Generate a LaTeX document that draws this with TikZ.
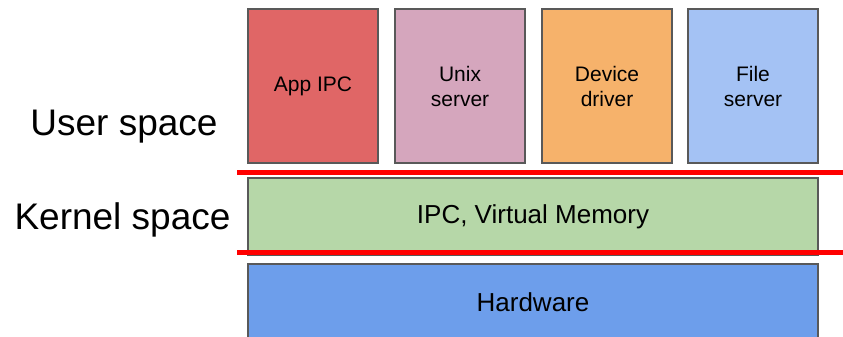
\documentclass[tikz,border=0pt]{standalone}
\usepackage{fontspec}
\setmainfont{Liberation Sans}
\definecolor{cApp}{HTML}{E06666}
\definecolor{cUnix}{HTML}{D5A6BD}
\definecolor{cDev}{HTML}{F6B26B}
\definecolor{cFile}{HTML}{A4C2F4}
\definecolor{cKern}{HTML}{B6D7A8}
\definecolor{cHw}{HTML}{6D9EEB}
\definecolor{cBorder}{HTML}{595959}
\tikzset{
  block/.style={draw=cBorder, line width=2pt, inner sep=0pt, align=center,
    font=\fontsize{21}{25}\selectfont},
  upbox/.style={block, minimum width=130pt, minimum height=154pt},
  wide/.style={block, minimum width=570pt, font=\fontsize{26}{30}\selectfont},
  sep/.style={draw=red, line width=5pt},
  spacelabel/.style={anchor=base, inner sep=0pt, font=\fontsize{37}{44}\selectfont}
}
\begin{document}
\begin{tikzpicture}[x=1pt, y=-1pt]
\useasboundingbox (0,0) rectangle (843,337);
\node[upbox, fill=cApp]  (app)  at (313,86) {App IPC};
\node[upbox, fill=cUnix] (unix) at (460,86) {Unix\\server};
\node[upbox, fill=cDev]  (dev)  at (607,86) {Device\\driver};
\node[upbox, fill=cFile] (file) at (753,86) {File\\server};
\node[wide, fill=cKern, minimum height=77pt] (kern) at (533,216.5) {IPC, Virtual Memory};
\node[wide, fill=cHw, minimum height=76pt] (hw) at (533,302) {Hardware};
\coordinate (s1a) at (237,172.5);
\coordinate (s1b) at (843,172.5);
\coordinate (s2a) at (237,252.5);
\coordinate (s2b) at (843,252.5);
\draw[sep] (s1a) -- (s1b);
\draw[sep] (s2a) -- (s2b);
\node[spacelabel] (user) at (124,135.5) {User space};
\node[spacelabel] (kspace) at (122.5,229) {Kernel space};
\end{tikzpicture}
\end{document}
